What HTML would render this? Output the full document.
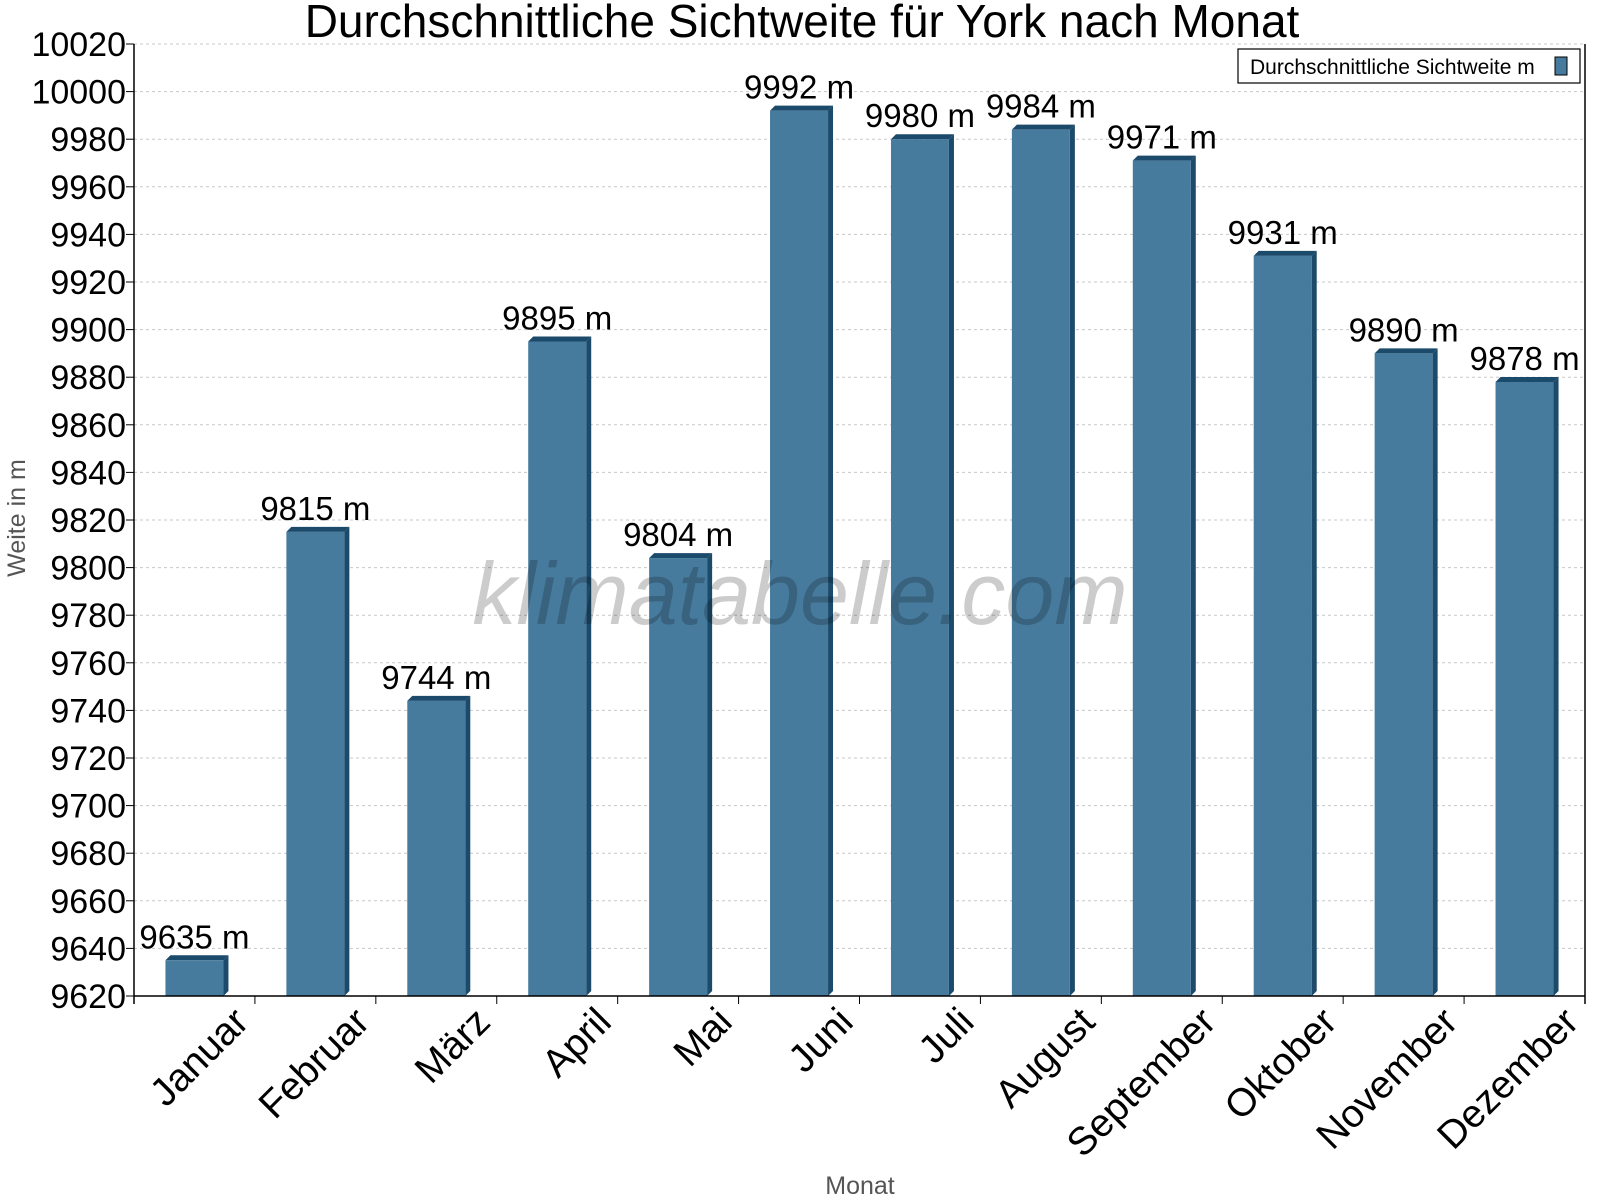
<!DOCTYPE html>
<html><head><meta charset="utf-8"><style>
body{margin:0;background:#fff}
svg{display:block;font-family:"Liberation Sans",sans-serif}
</style></head><body>
<svg id="c" width="1600" height="1200"></svg>
<script>
const months=["Januar","Februar","März","April","Mai","Juni","Juli","August","September","Oktober","November","Dezember"];
const values=[9635,9815,9744,9895,9804,9992,9980,9984,9971,9931,9890,9878];
const yTicks=[9620,9640,9660,9680,9700,9720,9740,9760,9780,9800,9820,9840,9860,9880,9900,9920,9940,9960,9980,10000,10020];
const L=134,R=1585,T=44,B=996,ymin=9620,ymax=10020;
const y=v=>B-(v-ymin)/(ymax-ymin)*(B-T);
const bw=(R-L)/months.length;
const x=i=>L+bw*i+bw/2;
const s=document.getElementById('c');const NS="http://www.w3.org/2000/svg";
function el(t,a,txt){const e=document.createElementNS(NS,t);for(const k in a)e.setAttribute(k,a[k]);if(txt!==undefined)e.textContent=txt;s.appendChild(e);return e;}
let e;
yTicks.forEach(v=>{
e=el('line',{x1:L,x2:R,y1:y(v),y2:y(v),stroke:'#c8c8c8','stroke-dasharray':'3,3'});


e=el('line',{x1:L-8,x2:L,y1:y(v),y2:y(v),stroke:'#000'});


e=el('text',{x:L-8,y:y(v)+12,'text-anchor':'end','font-size':34},v);


});
values.forEach((v,i)=>{
const cx=x(i),x0=cx-29,x1=cx+29,top=y(v),d=5;
e=el('polygon',{points:`${x1},${top} ${x1+d},${top-d} ${x1+d},${B-d} ${x1},${B}`,fill:'#1b4a6b'});


e=el('polygon',{points:`${x0},${top} ${x0+d},${top-d} ${x1+d},${top-d} ${x1},${top}`,fill:'#1b4a6b'});


e=el('rect',{x:x0,y:top,width:58,height:B-top,fill:'#467b9d'});


e=el('text',{x:cx,y:top-12,'text-anchor':'middle','font-size':33},v+' m');


e=el('line',{x1:L+bw*(i+1),x2:L+bw*(i+1),y1:B,y2:B+8,stroke:'#000'});


e=el('text',{x:cx+34,y:B+6,'text-anchor':'end','font-size':39,transform:`rotate(-45 ${cx+34} ${B+6})`,dy:'0.8em'},months[i]);


});
e=el('text',{x:800,y:624,'font-size':88,fill:'#000','fill-opacity':0.2,'text-anchor':'middle','font-style':'italic'},'klimatabelle.com');


e=el('line',{x1:L,x2:L,y1:T,y2:B+8,stroke:'#000','stroke-width':1.5});


e=el('line',{x1:R,x2:R,y1:T,y2:B+8,stroke:'#000','stroke-width':1.5});


e=el('line',{x1:L,x2:R,y1:B,y2:B,stroke:'#000','stroke-width':1.5});


e=el('text',{x:802,y:37,'text-anchor':'middle','font-size':46},'Durchschnittliche Sichtweite für York nach Monat');


e=el('text',{x:860,y:1194,'text-anchor':'middle','font-size':25,fill:'#555'},'Monat');


e=el('text',{x:0,y:0,'text-anchor':'middle','font-size':25,fill:'#555',transform:'translate(25,518) rotate(-90)'},'Weite in m');


e=el('rect',{x:1238,y:49,width:342,height:34,fill:'#fff',stroke:'#000','stroke-width':1.2});


e=el('text',{x:1250,y:74,'font-size':21},'Durchschnittliche Sichtweite m');


e=el('rect',{x:1555,y:57,width:12,height:18,fill:'#467b9d',stroke:'#000'});


</script>
</body></html>
